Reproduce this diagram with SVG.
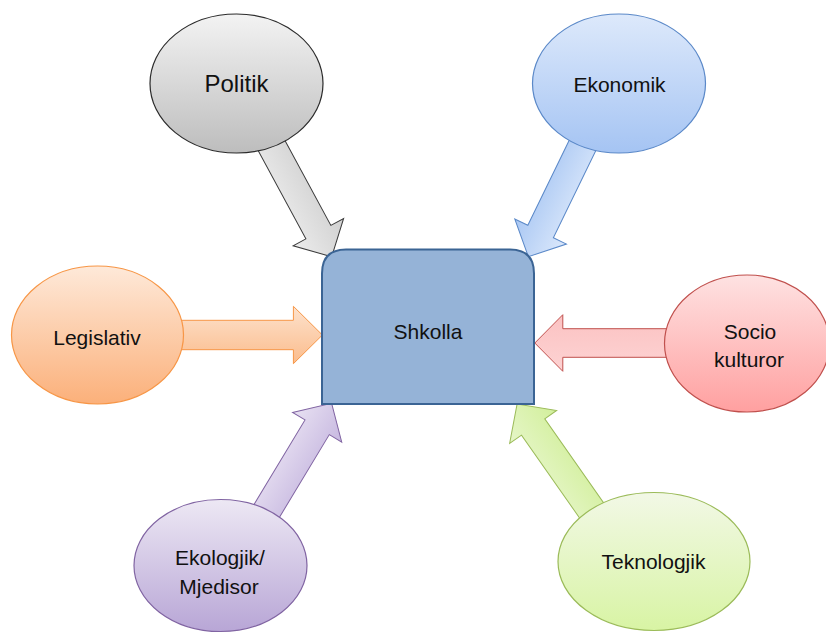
<svg xmlns="http://www.w3.org/2000/svg" width="826" height="637" viewBox="0 0 826 637">
<defs>
<linearGradient id="gGray" x1="0" y1="0" x2="0" y2="1"><stop offset="0" stop-color="#f3f3f3"/><stop offset="1" stop-color="#bdbdbd"/></linearGradient>
<linearGradient id="gBlue" x1="0" y1="0" x2="0" y2="1"><stop offset="0" stop-color="#dde9fb"/><stop offset="1" stop-color="#a5c4f3"/></linearGradient>
<linearGradient id="gOrange" x1="0" y1="0" x2="0" y2="1"><stop offset="0" stop-color="#fee9d9"/><stop offset="1" stop-color="#fbb07a"/></linearGradient>
<linearGradient id="gRed" x1="0" y1="0" x2="0" y2="1"><stop offset="0" stop-color="#fee2e2"/><stop offset="1" stop-color="#ffa0a0"/></linearGradient>
<linearGradient id="gPurple" x1="0" y1="0" x2="0" y2="1"><stop offset="0" stop-color="#ede8f4"/><stop offset="1" stop-color="#b8a6d6"/></linearGradient>
<linearGradient id="gGreen" x1="0" y1="0" x2="0" y2="1"><stop offset="0" stop-color="#f2f8e6"/><stop offset="1" stop-color="#d8f4a4"/></linearGradient>
<linearGradient id="aGray" x1="0" y1="0" x2="0" y2="1"><stop offset="0" stop-color="#d0d0d0"/><stop offset="1" stop-color="#ececec"/></linearGradient>
<linearGradient id="aBlue" x1="0" y1="0" x2="0" y2="1"><stop offset="0" stop-color="#dbe8fb"/><stop offset="1" stop-color="#a9c7f3"/></linearGradient>
<linearGradient id="aOrange" x1="0" y1="0" x2="0" y2="1"><stop offset="0" stop-color="#fde2cd"/><stop offset="1" stop-color="#fbbc8c"/></linearGradient>
<linearGradient id="aRed" x1="0" y1="0" x2="0" y2="1"><stop offset="0" stop-color="#fdd3d3"/><stop offset="1" stop-color="#fbc2c2"/></linearGradient>
<linearGradient id="aPurple" x1="0" y1="0" x2="0" y2="1"><stop offset="0" stop-color="#e8e1f2"/><stop offset="1" stop-color="#c7b8e0"/></linearGradient>
<linearGradient id="aGreen" x1="0" y1="0" x2="0" y2="1"><stop offset="0" stop-color="#e6f6c8"/><stop offset="1" stop-color="#d2ef9c"/></linearGradient>
</defs>
<style>
text{font-family:"Liberation Sans",Arial,sans-serif;font-size:21px;fill:#111;text-anchor:middle}
.arr{stroke-width:1;stroke-linejoin:miter}
.ell{stroke-width:1.2}
</style>
<g id="connectors">
<path class="arr" fill="url(#aGray)" stroke="#3a3a3a" transform="translate(269.1,141) rotate(61.6)" d="M0,-14.2 H103.6 V-28.7 L131.6,0 L103.6,28.7 V14.2 H0 Z"/>
<path class="arr" fill="url(#aBlue)" stroke="#5a88c8" transform="translate(586.5,137.2) rotate(115.95)" d="M0,-14.2 H104.9 V-28.7 L132.9,0 L104.9,28.7 V14.2 H0 Z"/>
<path class="arr" fill="url(#aOrange)" stroke="#f79646" transform="translate(179,335)" d="M0,-14.7 H114.4 V-28.7 L143.4,0 L114.4,28.7 V14.7 H0 Z"/>
<path class="arr" fill="url(#aRed)" stroke="#c0504d" transform="translate(669,343) rotate(180)" d="M0,-14.3 H106.2 V-28.3 L134.2,0 L106.2,28.3 V14.3 H0 Z"/>
<path class="arr" fill="url(#aPurple)" stroke="#8064a2" transform="translate(263.7,515.9) rotate(-58.9)" d="M0,-14.2 H103.5 V-28.7 L131.5,0 L103.5,28.7 V14.2 H0 Z"/>
<path class="arr" fill="url(#aGreen)" stroke="#9bbb59" transform="translate(594,513.8) rotate(-125.04)" d="M0,-14.2 H106 V-28.7 L134,0 L106,28.7 V14.2 H0 Z"/>
</g>
<g id="shkolla">
<path d="M322,404 V273.5 Q322,249.5 346,249.5 H510 Q534,249.5 534,273.5 V404 Z" fill="#95b3d7" stroke="#3b6494" stroke-width="2"/>
<text x="428" y="339">Shkolla</text>
</g>
<g id="politik">
<ellipse class="ell" cx="236.5" cy="83.5" rx="86.5" ry="69.5" fill="url(#gGray)" stroke="#2b2b2b"/>
<text x="236.5" y="92" style="font-size:24px">Politik</text>
</g>
<g id="ekonomik">
<ellipse class="ell" cx="619" cy="83.5" rx="86.5" ry="69.5" fill="url(#gBlue)" stroke="#5a88c8"/>
<text x="619.5" y="92">Ekonomik</text>
</g>
<g id="legislativ">
<ellipse class="ell" cx="97.5" cy="335" rx="86" ry="69" fill="url(#gOrange)" stroke="#f79646"/>
<text x="97" y="345">Legislativ</text>
</g>
<g id="socio-kulturor">
<ellipse class="ell" cx="747" cy="343.5" rx="82.5" ry="68.5" fill="url(#gRed)" stroke="#c0504d"/>
<text x="750" y="338.5">Socio</text>
<text x="749" y="367">kulturor</text>
</g>
<g id="ekologjik">
<ellipse class="ell" cx="220.5" cy="565.5" rx="86.5" ry="66" fill="url(#gPurple)" stroke="#8064a2"/>
<text x="220" y="565">Ekologjik/</text>
<text x="219" y="593.5">Mjedisor</text>
</g>
<g id="teknologjik">
<ellipse class="ell" cx="654" cy="561.5" rx="96" ry="69" fill="url(#gGreen)" stroke="#9bbb59"/>
<text x="653.5" y="569">Teknologjik</text>
</g>
</svg>
